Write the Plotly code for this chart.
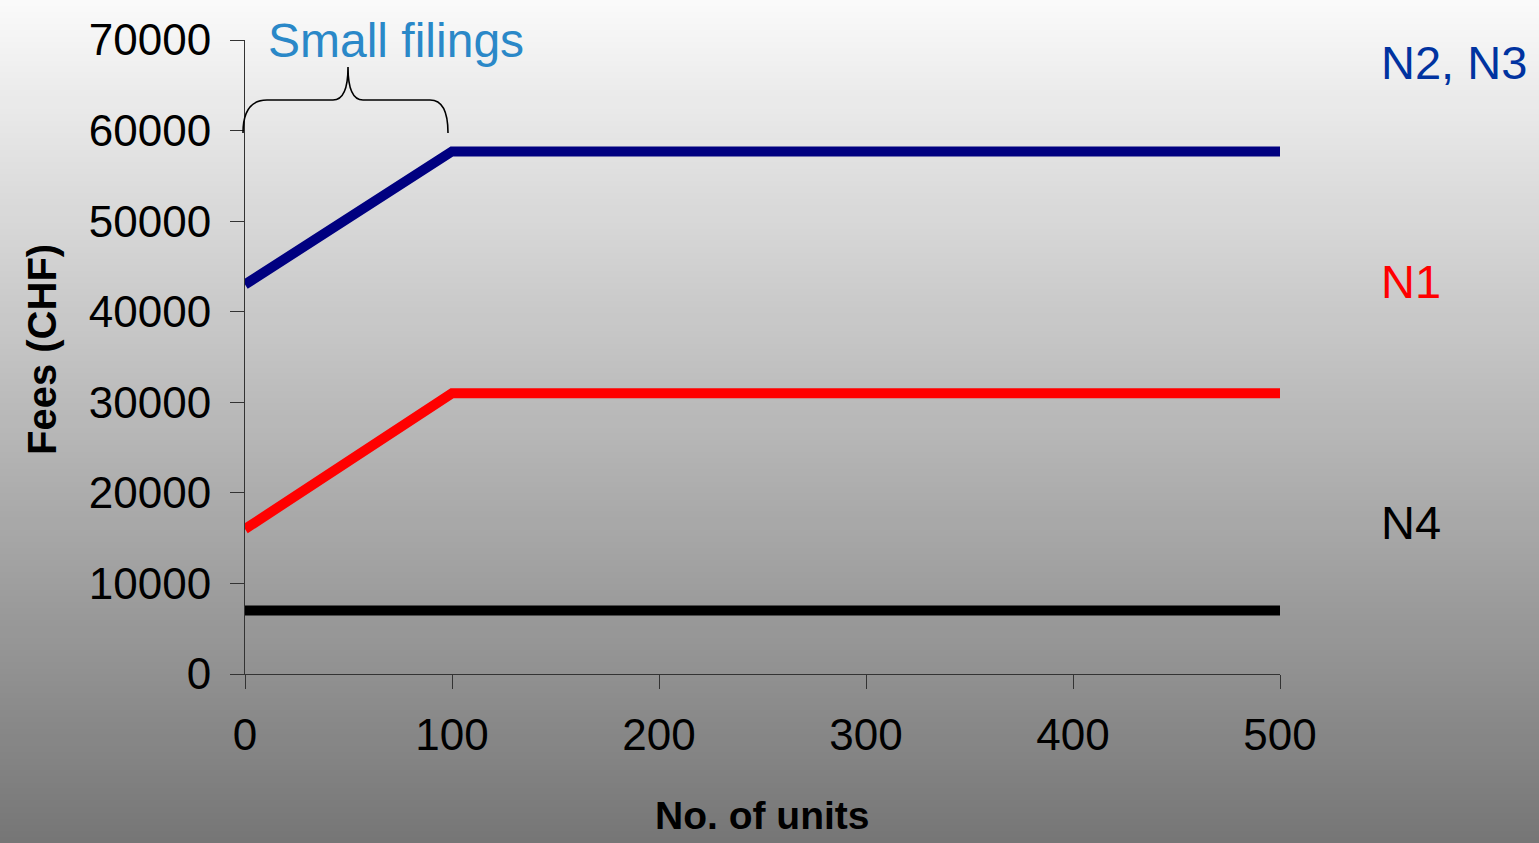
import plotly.graph_objects as go

# ---- data ----
units = [0, 100, 200, 300, 400, 500]
fees_n2_n3 = [43000, 57700, 57700, 57700, 57700, 57700]
fees_n1 = [16000, 31000, 31000, 31000, 31000, 31000]
fees_n4 = [7000, 7000, 7000, 7000, 7000, 7000]
x_ticks = [0, 100, 200, 300, 400, 500]
y_ticks = [0, 10000, 20000, 30000, 40000, 50000, 60000, 70000]

W, H = 1539, 843
ML, MR, MT, MB = 245, 259, 40, 169
PW, PH = W - ML - MR, H - MT - MB


def px(x):
    return (x - ML) / PW


def py(y):
    return (H - MB - y) / PH


FONT = "Arial, Liberation Sans, sans-serif"

fig = go.Figure()
fig.add_trace(go.Scatter(x=units, y=fees_n2_n3, mode="lines",
                         line=dict(color="#000080", width=10), name="N2, N3"))
fig.add_trace(go.Scatter(x=units, y=fees_n1, mode="lines",
                         line=dict(color="#ff0000", width=10), name="N1"))
fig.add_trace(go.Scatter(x=units, y=fees_n4, mode="lines",
                         line=dict(color="#000000", width=10), name="N4"))

# gradient background
shapes = []
n = 140
top, bot = 250, 118
for i in range(n):
    c = round(top + (bot - top) * (i + 0.5) / n)
    y0 = H * i / n
    y1 = H * (i + 1) / n + 0.8
    shapes.append(dict(type="rect", xref="paper", yref="paper",
                       x0=px(-5), x1=px(W + 5), y0=py(y1), y1=py(y0),
                       fillcolor=f"rgb({c},{c},{c})", line=dict(width=0),
                       layer="below"))

# curly brace over small filings
pts = [(243, 133), (243, 100), (267, 100), (333, 100), (348, 100), (348, 67),
       (348, 100), (363, 100), (430, 100), (448, 100), (448, 133)]
P = [f"{px(a):.5f},{py(b):.5f}" for a, b in pts]
path = (f"M {P[0]} Q {P[1]} {P[2]} L {P[3]} Q {P[4]} {P[5]} "
        f"Q {P[6]} {P[7]} L {P[8]} Q {P[9]} {P[10]}")
shapes.append(dict(type="path", xref="paper", yref="paper", path=path,
                   line=dict(color="black", width=1.6)))

annotations = [
    dict(text="Small filings", x=px(266), y=py(40), xref="paper", yref="paper",
         xanchor="left", yanchor="middle", showarrow=False,
         font=dict(family=FONT, size=48, color="#2a88c8")),
    dict(text="N2, N3", x=px(1379), y=py(62), xref="paper", yref="paper",
         xanchor="left", yanchor="middle", showarrow=False,
         font=dict(family=FONT, size=47, color="#0033a0")),
    dict(text="N1", x=px(1379), y=py(281), xref="paper", yref="paper",
         xanchor="left", yanchor="middle", showarrow=False,
         font=dict(family=FONT, size=47, color="#ff0000")),
    dict(text="N4", x=px(1379), y=py(522), xref="paper", yref="paper",
         xanchor="left", yanchor="middle", showarrow=False,
         font=dict(family=FONT, size=47, color="#000000")),
    dict(text="<b>Fees (CHF)</b>", x=px(42), y=py(350), xref="paper", yref="paper",
         xanchor="center", yanchor="middle", textangle=-90, showarrow=False,
         font=dict(family=FONT, size=40, color="#000000")),
    dict(text="<b>No. of units</b>", x=px(762), y=py(815), xref="paper", yref="paper",
         xanchor="center", yanchor="middle", showarrow=False,
         font=dict(family=FONT, size=39, color="#000000")),
]

fig.update_layout(
    width=W, height=H,
    margin=dict(l=ML, r=MR, t=MT, b=MB, pad=0),
    paper_bgcolor="rgb(190,190,190)",
    plot_bgcolor="rgba(0,0,0,0)",
    showlegend=False,
    shapes=shapes,
    annotations=annotations,
    font=dict(family=FONT, color="black"),
    xaxis=dict(range=[0, 500], tickvals=x_ticks, ticktext=[str(v) for v in x_ticks],
               showgrid=False, zeroline=False, showline=True, linecolor="#333",
               linewidth=1, ticks="outside", ticklen=14, tickcolor="#333",
               tickwidth=1, tickfont=dict(family=FONT, size=44, color="black"),
               ticklabelstandoff=8),
    yaxis=dict(range=[0, 70000], tickvals=y_ticks, ticktext=[str(v) for v in y_ticks],
               showgrid=False, zeroline=False, showline=True, linecolor="#333",
               linewidth=1, ticks="outside", ticklen=14, tickcolor="#333",
               tickwidth=1, tickfont=dict(family=FONT, size=44, color="black"),
               ticklabelstandoff=10),
)

fig.write_html("out.html",
               config={"displayModeBar": False},
               post_script="document.body.style.margin='0';"
                           "document.body.style.overflow='hidden';")
